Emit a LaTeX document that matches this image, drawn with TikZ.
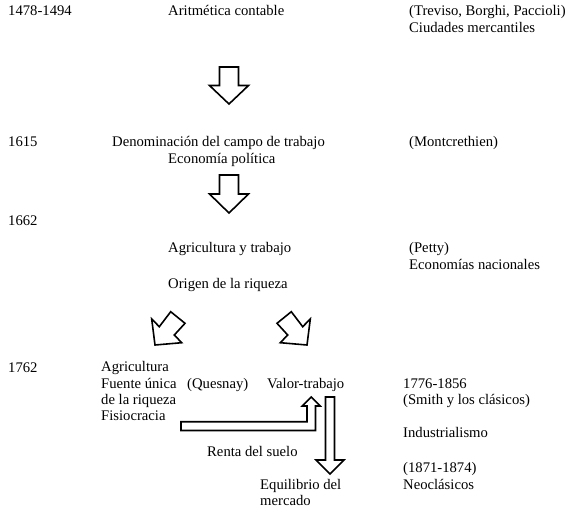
\documentclass[tikz,border=0pt]{standalone}
\usepackage{fontspec}
\setmainfont{Liberation Serif}
\begin{document}
\begin{tikzpicture}[x=1pt,y=-1pt,
  txt/.style={anchor=mid west, inner sep=0pt, font=\fontsize{14.67}{17}\selectfont},
  blockarrow/.style={draw=black, line width=1.6pt, fill=white, line join=miter}]
\useasboundingbox (0,0) rectangle (568,512);
% row 1
\node[txt] (y1478) at (8,13) {1478-1494};
\node[txt] (arit) at (168,13) {Aritmética contable};
\node[txt] (trev) at (409,13) {(Treviso, Borghi, Paccioli)};
\node[txt] (ciud) at (409,30) {Ciudades mercantiles};
% row 2
\node[txt] (y1615) at (8,144) {1615};
\node[txt] (denom) at (112,144) {Denominación del campo de trabajo};
\node[txt] (econ) at (168,161) {Economía política};
\node[txt] (mont) at (409,144) {(Montcrethien)};
% row 3
\node[txt] (y1662) at (8,223) {1662};
\node[txt] (agri) at (168,250.5) {Agricultura y trabajo};
\node[txt] (petty) at (409,250.5) {(Petty)};
\node[txt] (econac) at (409,267) {Economías nacionales};
\node[txt] (orig) at (168,286) {Origen de la riqueza};
% row 4
\node[txt] (y1762) at (8,370) {1762};
\node[txt] (agr2) at (101,369) {Agricultura};
\node[txt] (fuen) at (101,386) {Fuente única};
\node[txt] (ques) at (187,386) {(Quesnay)};
\node[txt] (valor) at (267,386) {Valor-trabajo};
\node[txt] (riq) at (101,402) {de la riqueza};
\node[txt] (fisio) at (101,418) {Fisiocracia};
\node[txt] (y1776) at (403,386) {1776-1856};
\node[txt] (smith) at (403,402) {(Smith y los clásicos)};
\node[txt] (indus) at (403,435) {Industrialismo};
\node[txt] (renta) at (207,454) {Renta del suelo};
\node[txt] (y1871) at (403,470) {(1871-1874)};
\node[txt] (neo) at (403,487) {Neoclásicos};
\node[txt] (equi) at (260,487) {Equilibrio del};
\node[txt] (merc) at (260,503) {mercado};
% vertical block arrows
\draw[blockarrow] (219.5,67) -- (238.5,67) -- (238.5,85.5) -- (248.5,85.5) -- (229,104) -- (209.5,85.5) -- (219.5,85.5) -- cycle;
\draw[blockarrow] (219.5,175) -- (238.5,175) -- (238.5,194) -- (248.5,194) -- (229,213) -- (209.5,194) -- (219.5,194) -- cycle;
% diagonal block arrows
\draw[blockarrow] (155,345) -- (151.7,319) -- (159.3,326.7) -- (170.7,311.7) -- (185,323.3) -- (174.3,335) -- (181.7,342.7) -- cycle;
\draw[blockarrow] (307,345) -- (310.3,319) -- (302.7,326.7) -- (291.3,311.7) -- (277,323.3) -- (287.7,335) -- (280.3,342.7) -- cycle;
% L-shaped arrow
\draw[blockarrow] (181,421.7) -- (307,421.7) -- (307,406) -- (302.3,406) -- (311.3,397) -- (320.3,406) -- (315.5,406) -- (315.5,430.5) -- (181,430.5) -- cycle;
% down arrow
\draw[blockarrow] (325.5,397) -- (334.5,397) -- (334.5,460) -- (344,460) -- (330,474) -- (316,460) -- (325.5,460) -- cycle;
\end{tikzpicture}
\end{document}
